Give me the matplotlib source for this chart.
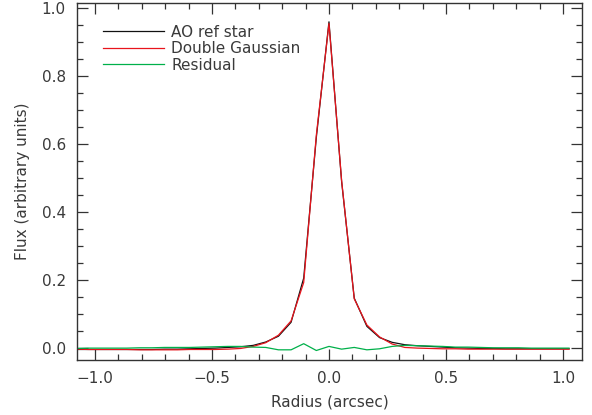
import matplotlib.pyplot as plt
from matplotlib.ticker import MultipleLocator

# radius sampling (arcsec)
radius = [-1.080, -1.026, -0.972, -0.918, -0.864, -0.810, -0.756, -0.702,
          -0.648, -0.594, -0.540, -0.486, -0.432, -0.378, -0.324, -0.270,
          -0.216, -0.162, -0.108, -0.054, 0.000, 0.054, 0.108, 0.162,
          0.216, 0.270, 0.324, 0.378, 0.432, 0.486, 0.540, 0.594,
          0.648, 0.702, 0.756, 0.810, 0.864, 0.918, 0.972, 1.026]

ao_star = [-0.004, -0.004, -0.004, -0.004, -0.004, -0.004, -0.004, -0.003,
           -0.003, -0.002, -0.001, 0.000, 0.002, 0.004, 0.008, 0.018,
           0.035, 0.076, 0.206, 0.620, 0.960, 0.490, 0.147, 0.064,
           0.031, 0.017, 0.010, 0.007, 0.005, 0.003, 0.001, 0.000,
           -0.001, -0.001, -0.002, -0.002, -0.002, -0.002, -0.002, -0.002]

double_gauss = [-0.003, -0.004, -0.004, -0.004, -0.004, -0.005, -0.005, -0.005,
                -0.005, -0.004, -0.004, -0.004, -0.003, -0.001, 0.005, 0.016,
                0.038, 0.080, 0.193, 0.627, 0.955, 0.493, 0.145, 0.068,
                0.033, 0.012, 0.002, 0.000, -0.001, -0.002, -0.002, -0.003,
                -0.003, -0.003, -0.003, -0.003, -0.003, -0.003, -0.003, -0.003]

residual = [-0.001, 0.000, 0.000, 0.000, 0.000, 0.001, 0.001, 0.002,
            0.002, 0.002, 0.003, 0.004, 0.005, 0.005, 0.003, 0.002,
            -0.005, -0.005, 0.013, -0.007, 0.005, -0.003, 0.002, -0.005,
            -0.002, 0.005, 0.008, 0.007, 0.006, 0.005, 0.003, 0.003,
            0.002, 0.001, 0.001, 0.001, 0.000, 0.000, 0.000, 0.000]

txt = '#3a3a3a'
plt.rcParams['font.family'] = 'DejaVu Sans'
plt.rcParams['font.size'] = 11

fig = plt.figure(figsize=(5.92, 4.15), dpi=100)
ax = fig.add_axes([0.130, 0.1325, 0.853, 0.860])

ax.plot(radius, ao_star, color='#111111', lw=0.9, label='AO ref star')
ax.plot(radius, double_gauss, color='#e8141c', lw=0.9, label='Double Gaussian')
ax.plot(radius, residual, color='#00b04a', lw=0.9, label='Residual')

ax.set_xlim(-1.077, 1.081)
ax.set_ylim(-0.035, 1.015)
ax.xaxis.set_major_locator(MultipleLocator(0.5))
ax.xaxis.set_minor_locator(MultipleLocator(0.1))
ax.yaxis.set_major_locator(MultipleLocator(0.2))
ax.yaxis.set_minor_locator(MultipleLocator(0.05))
ax.xaxis.set_major_formatter(plt.FuncFormatter(lambda v, p: f'{v:.1f}'.replace('-', '\u2212')))
ax.yaxis.set_major_formatter(plt.FuncFormatter(lambda v, p: f'{v:.1f}'))
ax.tick_params(which='both', direction='in', top=True, right=True,
               colors='#333333', labelcolor=txt, width=0.9)
ax.tick_params(which='major', length=8, pad=8)
ax.tick_params(which='minor', length=4)
for s in ax.spines.values():
    s.set_color('#333333')
    s.set_linewidth(1.0)

ax.set_xlabel('Radius (arcsec)', color=txt, labelpad=6)
ax.set_ylabel('Flux (arbitrary units)', color=txt, labelpad=8)

leg = ax.legend(loc='upper left', bbox_to_anchor=(0.051, 0.94), frameon=False,
                handlelength=4.0, handletextpad=0.5, labelspacing=0.1,
                borderaxespad=0, borderpad=0)
for t in leg.get_texts():
    t.set_color(txt)

fig.savefig('out.png', dpi=100)
